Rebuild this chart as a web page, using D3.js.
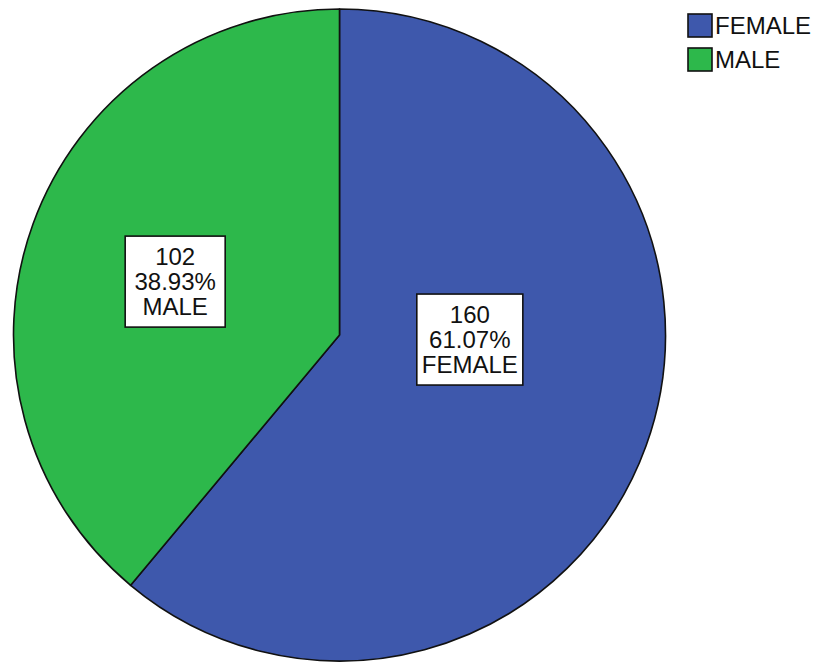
<!DOCTYPE html>
<html><head><meta charset="utf-8">
<script src="https://cdn.jsdelivr.net/npm/d3@7"></script>
<style>html,body{margin:0;padding:0;background:#fff;}svg{display:block;}</style>
</head><body>
<svg id="chart" width="820" height="664"></svg>
<script>
const categories = ["FEMALE", "MALE"];
const counts = [160, 102];
const percents = ["61.07%", "38.93%"];
const colors = ["#3E58AC", "#2DB84B"];

// layout (not data)
const cx = 339.5, cy = 335, R = 326;
const labelAnchor = [{ang: 92, frac: 0.40}, {ang: 288, frac: 0.53}];
const fontFam = "'Liberation Sans', Arial, sans-serif";
const fs = 24, lh = 25;

const svg = d3.select("#chart");
const pie = d3.pie().sort(null).value(d => d)(counts);
const arc = d3.arc().innerRadius(0).outerRadius(R);

const g = svg.append("g").attr("transform", `translate(${cx},${cy})`);
g.selectAll("path").data(pie).join("path")
  .attr("d", arc)
  .attr("fill", (d, i) => colors[i])
  .attr("stroke", "#111")
  .attr("stroke-width", 1.6)
  .attr("stroke-linejoin", "round");

// labels
pie.forEach((d, i) => {
  const a = labelAnchor[i].ang * Math.PI / 180, r = labelAnchor[i].frac * R;
  const lx = Math.sin(a) * r, ly = -Math.cos(a) * r;
  const lg = g.append("g").attr("transform", `translate(${lx},${ly})`);
  const lines = [String(counts[i]), percents[i], categories[i]];
  const rect = lg.append("rect");
  const t = lg.append("text").attr("font-family", fontFam).attr("font-size", fs)
    .attr("text-anchor", "middle").attr("fill", "#111");
  lines.forEach((s, k) => {
    t.append("tspan").attr("x", 0).attr("y", (k - 1) * lh + fs * 0.36).text(s);
  });
  const bb = t.node().getBBox();
  const w = Math.max(bb.width + 10, 100), h = lh * 3 + 16;
  rect.attr("x", -w / 2).attr("y", -h / 2).attr("width", w).attr("height", h)
    .attr("fill", "#fff").attr("stroke", "#111").attr("stroke-width", 1.6);
});

// legend
const leg = svg.append("g").attr("transform", "translate(688,14)");
categories.forEach((c, i) => {
  const row = leg.append("g").attr("transform", `translate(0,${i * 34})`);
  row.append("rect").attr("width", 24).attr("height", 23)
    .attr("fill", colors[i]).attr("stroke", "#111").attr("stroke-width", 1.6);
  row.append("text").attr("x", 27).attr("y", 20).attr("font-family", fontFam)
    .attr("font-size", fs).attr("fill", "#111").text(c);
});
</script>
</body></html>
